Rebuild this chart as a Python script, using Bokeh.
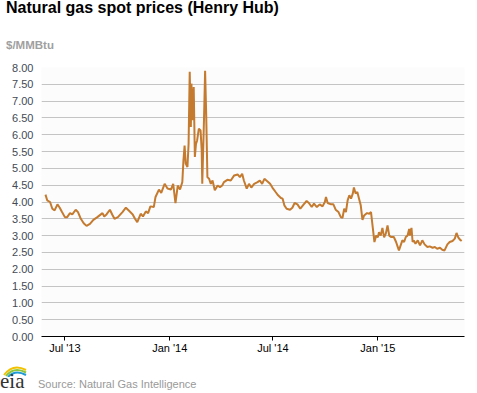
import pandas as pd
from bokeh.plotting import figure
from bokeh.layouts import column
from bokeh.models import Range1d, FixedTicker, NumeralTickFormatter, ColumnDataSource, Div
from bokeh.embed import file_html
from bokeh.resources import INLINE

# ---- data ----
dates = [
    "2013-05-28", "2013-05-31", "2013-06-05", "2013-06-09", "2013-06-13", "2013-06-18",
    "2013-06-22", "2013-06-26", "2013-07-01", "2013-07-05", "2013-07-10", "2013-07-14",
    "2013-07-20", "2013-07-24", "2013-07-29", "2013-08-03", "2013-08-08", "2013-08-14",
    "2013-08-20", "2013-08-27", "2013-09-05", "2013-09-08", "2013-09-12", "2013-09-18",
    "2013-09-22", "2013-09-26", "2013-10-02", "2013-10-10", "2013-10-16", "2013-10-22",
    "2013-10-28", "2013-11-01", "2013-11-05", "2013-11-11", "2013-11-15", "2013-11-20",
    "2013-11-24", "2013-11-28", "2013-12-04", "2013-12-07", "2013-12-13", "2013-12-17",
    "2013-12-23", "2013-12-28", "2014-01-03", "2014-01-07", "2014-01-11", "2014-01-15",
    "2014-01-19", "2014-01-23", "2014-01-25", "2014-01-27", "2014-01-29", "2014-02-01",
    "2014-02-03", "2014-02-05", "2014-02-07", "2014-02-08", "2014-02-10", "2014-02-12",
    "2014-02-14", "2014-02-16", "2014-02-18", "2014-02-21", "2014-02-24", "2014-02-26",
    "2014-02-27", "2014-03-02", "2014-03-04", "2014-03-06", "2014-03-08", "2014-03-11",
    "2014-03-14", "2014-03-17", "2014-03-21", "2014-03-26", "2014-03-30", "2014-04-03",
    "2014-04-06", "2014-04-12", "2014-04-18", "2014-04-24", "2014-04-30", "2014-05-04",
    "2014-05-08", "2014-05-11", "2014-05-16", "2014-05-20", "2014-05-24", "2014-05-29",
    "2014-06-04", "2014-06-08", "2014-06-12", "2014-06-16", "2014-06-21", "2014-06-26",
    "2014-06-30", "2014-07-06", "2014-07-10", "2014-07-15", "2014-07-18", "2014-07-21",
    "2014-07-25", "2014-07-31", "2014-08-04", "2014-08-08", "2014-08-13", "2014-08-18",
    "2014-08-24", "2014-08-29", "2014-09-02", "2014-09-07", "2014-09-11", "2014-09-16",
    "2014-09-21", "2014-09-26", "2014-09-30", "2014-10-02", "2014-10-05", "2014-10-11",
    "2014-10-15", "2014-10-19", "2014-10-24", "2014-10-28", "2014-10-31", "2014-11-03",
    "2014-11-06", "2014-11-09", "2014-11-12", "2014-11-15", "2014-11-18", "2014-11-20",
    "2014-11-23", "2014-11-26", "2014-11-29", "2014-12-02", "2014-12-05", "2014-12-08",
    "2014-12-13", "2014-12-17", "2014-12-20", "2014-12-23", "2014-12-26", "2014-12-29",
    "2015-01-01", "2015-01-03", "2015-01-06", "2015-01-09", "2015-01-12", "2015-01-15",
    "2015-01-18", "2015-01-21", "2015-01-24", "2015-01-29", "2015-02-02", "2015-02-05",
    "2015-02-07", "2015-02-10", "2015-02-13", "2015-02-16", "2015-02-19", "2015-02-22",
    "2015-02-25", "2015-02-26", "2015-03-01", "2015-03-03", "2015-03-05", "2015-03-08",
    "2015-03-12", "2015-03-16", "2015-03-20", "2015-03-24", "2015-03-29", "2015-04-02",
    "2015-04-07", "2015-04-11", "2015-04-15", "2015-04-20", "2015-04-24", "2015-04-28",
    "2015-05-03", "2015-05-07", "2015-05-12", "2015-05-16", "2015-05-19", "2015-05-22",
    "2015-05-25", "2015-05-28",
]
prices = [
    4.22, 4.05, 4.00, 3.80, 3.75, 3.93,
    3.83, 3.70, 3.55, 3.55, 3.67, 3.63,
    3.77, 3.70, 3.50, 3.37, 3.29, 3.35,
    3.47, 3.55, 3.67, 3.57, 3.63, 3.77,
    3.63, 3.50, 3.55, 3.70, 3.83, 3.73,
    3.63, 3.50, 3.40, 3.65, 3.57, 3.72,
    3.67, 3.87, 3.85, 4.15, 4.37, 4.27,
    4.54, 4.40, 4.37, 4.54, 3.97, 4.49,
    4.37, 4.59, 5.24, 5.68, 5.14, 5.04,
    5.73, 7.87, 6.23, 7.52, 6.43, 7.42,
    5.34, 5.73, 5.83, 6.18, 6.13, 5.54,
    4.54, 6.43, 7.90, 6.53, 4.74, 4.69,
    4.54, 4.64, 4.35, 4.49, 4.44, 4.49,
    4.59, 4.66, 4.64, 4.79, 4.82, 4.74,
    4.84, 4.64, 4.40, 4.54, 4.43, 4.54,
    4.59, 4.64, 4.54, 4.69, 4.62, 4.54,
    4.43, 4.29, 4.20, 4.12, 4.10, 3.90,
    3.80, 3.77, 3.83, 3.97, 3.93, 3.80,
    3.93, 4.03, 3.97, 3.85, 3.95, 3.85,
    3.93, 3.87, 4.00, 4.15, 3.97, 3.93,
    3.93, 3.77, 3.70, 3.55, 3.53, 3.80,
    3.70, 4.05, 4.20, 4.10, 4.25, 4.43,
    4.25, 4.30, 4.10, 3.90, 3.47, 3.60,
    3.67, 3.65, 3.70, 3.25, 2.81, 3.00,
    2.95, 3.10, 3.00, 3.23, 2.95, 3.06,
    3.30, 3.00, 2.96, 2.96, 2.81, 2.66,
    2.56, 2.71, 2.86, 2.81, 2.96, 3.00,
    3.20, 3.00, 3.23, 2.81, 2.86, 2.76,
    2.86, 2.71, 2.86, 2.74, 2.66, 2.68,
    2.64, 2.66, 2.61, 2.64, 2.58, 2.56,
    2.74, 2.81, 2.84, 2.91, 3.08, 2.95,
    2.88, 2.84,
]
x_ticks = ["2013-07-01", "2014-01-01", "2014-07-01", "2015-01-01"]
x_tick_labels = ["Jul '13", "Jan '14", "Jul '14", "Jan '15"]
y_ticks = [0, 0.5, 1, 1.5, 2, 2.5, 3, 3.5, 4, 4.5, 5, 5.5, 6, 6.5, 7, 7.5, 8]
x_start, x_end = "2013-05-21", "2015-06-02"

title_text = "Natural gas spot prices (Henry Hub)"
unit_text = "$/MMBtu"
source_text = "Source: Natural Gas Intelligence"

src = ColumnDataSource(dict(x=pd.to_datetime(dates), y=prices))


def ms(d):
    return pd.Timestamp(d).value / 1e6


p = figure(width=477, height=300, x_axis_type="datetime",
           output_backend="svg", toolbar_location=None,
           x_range=Range1d(ms(x_start), ms(x_end)),
           y_range=Range1d(0, 8),
           min_border_left=41, min_border_right=13,
           min_border_top=7, min_border_bottom=24)
p.margin = (0, 0, 0, 0)
p.outline_line_color = None
p.background_fill_color = "#fcfcfc"
p.border_fill_color = "white"

p.line("x", "y", source=src, line_color="#c47a2f", line_width=2)

# y axis
p.yaxis.ticker = FixedTicker(ticks=y_ticks)
p.yaxis.formatter = NumeralTickFormatter(format="0.00")
p.yaxis.axis_line_color = None
p.yaxis.major_tick_line_color = None
p.yaxis.major_tick_in = 0
p.yaxis.major_tick_out = 0
p.yaxis.minor_tick_line_color = None
p.yaxis.minor_tick_out = 0
p.yaxis.major_label_standoff = 8
p.yaxis.major_label_text_font = "Liberation Sans"
p.yaxis.major_label_text_font_size = "11px"
p.yaxis.major_label_text_color = "#444a55"

# x axis
p.xaxis.ticker = FixedTicker(ticks=[ms(d) for d in x_ticks])
p.xaxis.major_label_overrides = {ms(d): lab for d, lab in zip(x_ticks, x_tick_labels)}
p.xaxis.axis_line_color = "black"
p.xaxis.axis_line_width = 1
p.xaxis.major_tick_line_color = "black"
p.xaxis.major_tick_in = 0
p.xaxis.major_tick_out = 4
p.xaxis.minor_tick_line_color = None
p.xaxis.minor_tick_out = 0
p.xaxis.major_label_standoff = 1
p.xaxis.major_label_text_font = "Liberation Sans"
p.xaxis.major_label_text_font_size = "11px"
p.xaxis.major_label_text_color = "black"

p.xgrid.grid_line_color = None
p.ygrid.grid_line_color = "#c4c4c4"
p.ygrid.grid_line_width = 1

top_html = (
    '<div style="position:relative;width:477px;height:60px;overflow:visible;">'
    '<span style="position:absolute;left:6px;top:0px;white-space:nowrap;'
    "font-family:'Liberation Sans',Arial,sans-serif;font-weight:bold;font-size:16px;"
    f'line-height:16px;color:#000;">{title_text}</span>'
    '<span style="position:absolute;left:6px;top:40px;white-space:nowrap;'
    "font-family:'Liberation Sans',Arial,sans-serif;font-weight:bold;font-size:11.5px;"
    f'line-height:11.5px;color:#a0a0a0;">{unit_text}</span>'
    '</div>'
)
bottom_html = (
    '<div style="position:relative;width:477px;height:33px;overflow:visible;">'
    '<svg style="position:absolute;left:2px;top:3px;" width="26" height="14">'
    '<path d="M2,12 Q11,0 24,7" fill="none" stroke="#f2c200" stroke-width="2"/>'
    '<path d="M4,13 Q12,3 24,9.5" fill="none" stroke="#8cc63f" stroke-width="2"/>'
    '<path d="M6,14 Q13,6 24,12" fill="none" stroke="#1f9ad6" stroke-width="2"/>'
    '</svg>'
    '<span style="position:absolute;left:0px;top:11px;white-space:nowrap;'
    "font-family:'Liberation Serif',serif;font-size:21px;line-height:21px;"
    'color:#333;">eia</span>'
    '<span style="position:absolute;left:38px;top:19px;white-space:nowrap;'
    "font-family:'Liberation Sans',Arial,sans-serif;font-size:11px;line-height:11px;"
    f'color:#999;">{source_text}</span>'
    '</div>'
)
top = Div(text=top_html, width=477, height=60, margin=(0, 0, 0, 0))
bottom = Div(text=bottom_html, width=477, height=33, margin=(0, 0, 0, 0))

layout = column(top, p, bottom, spacing=0, margin=(0, 0, 0, 0))

open("out.html", "w").write(file_html(layout, INLINE))
